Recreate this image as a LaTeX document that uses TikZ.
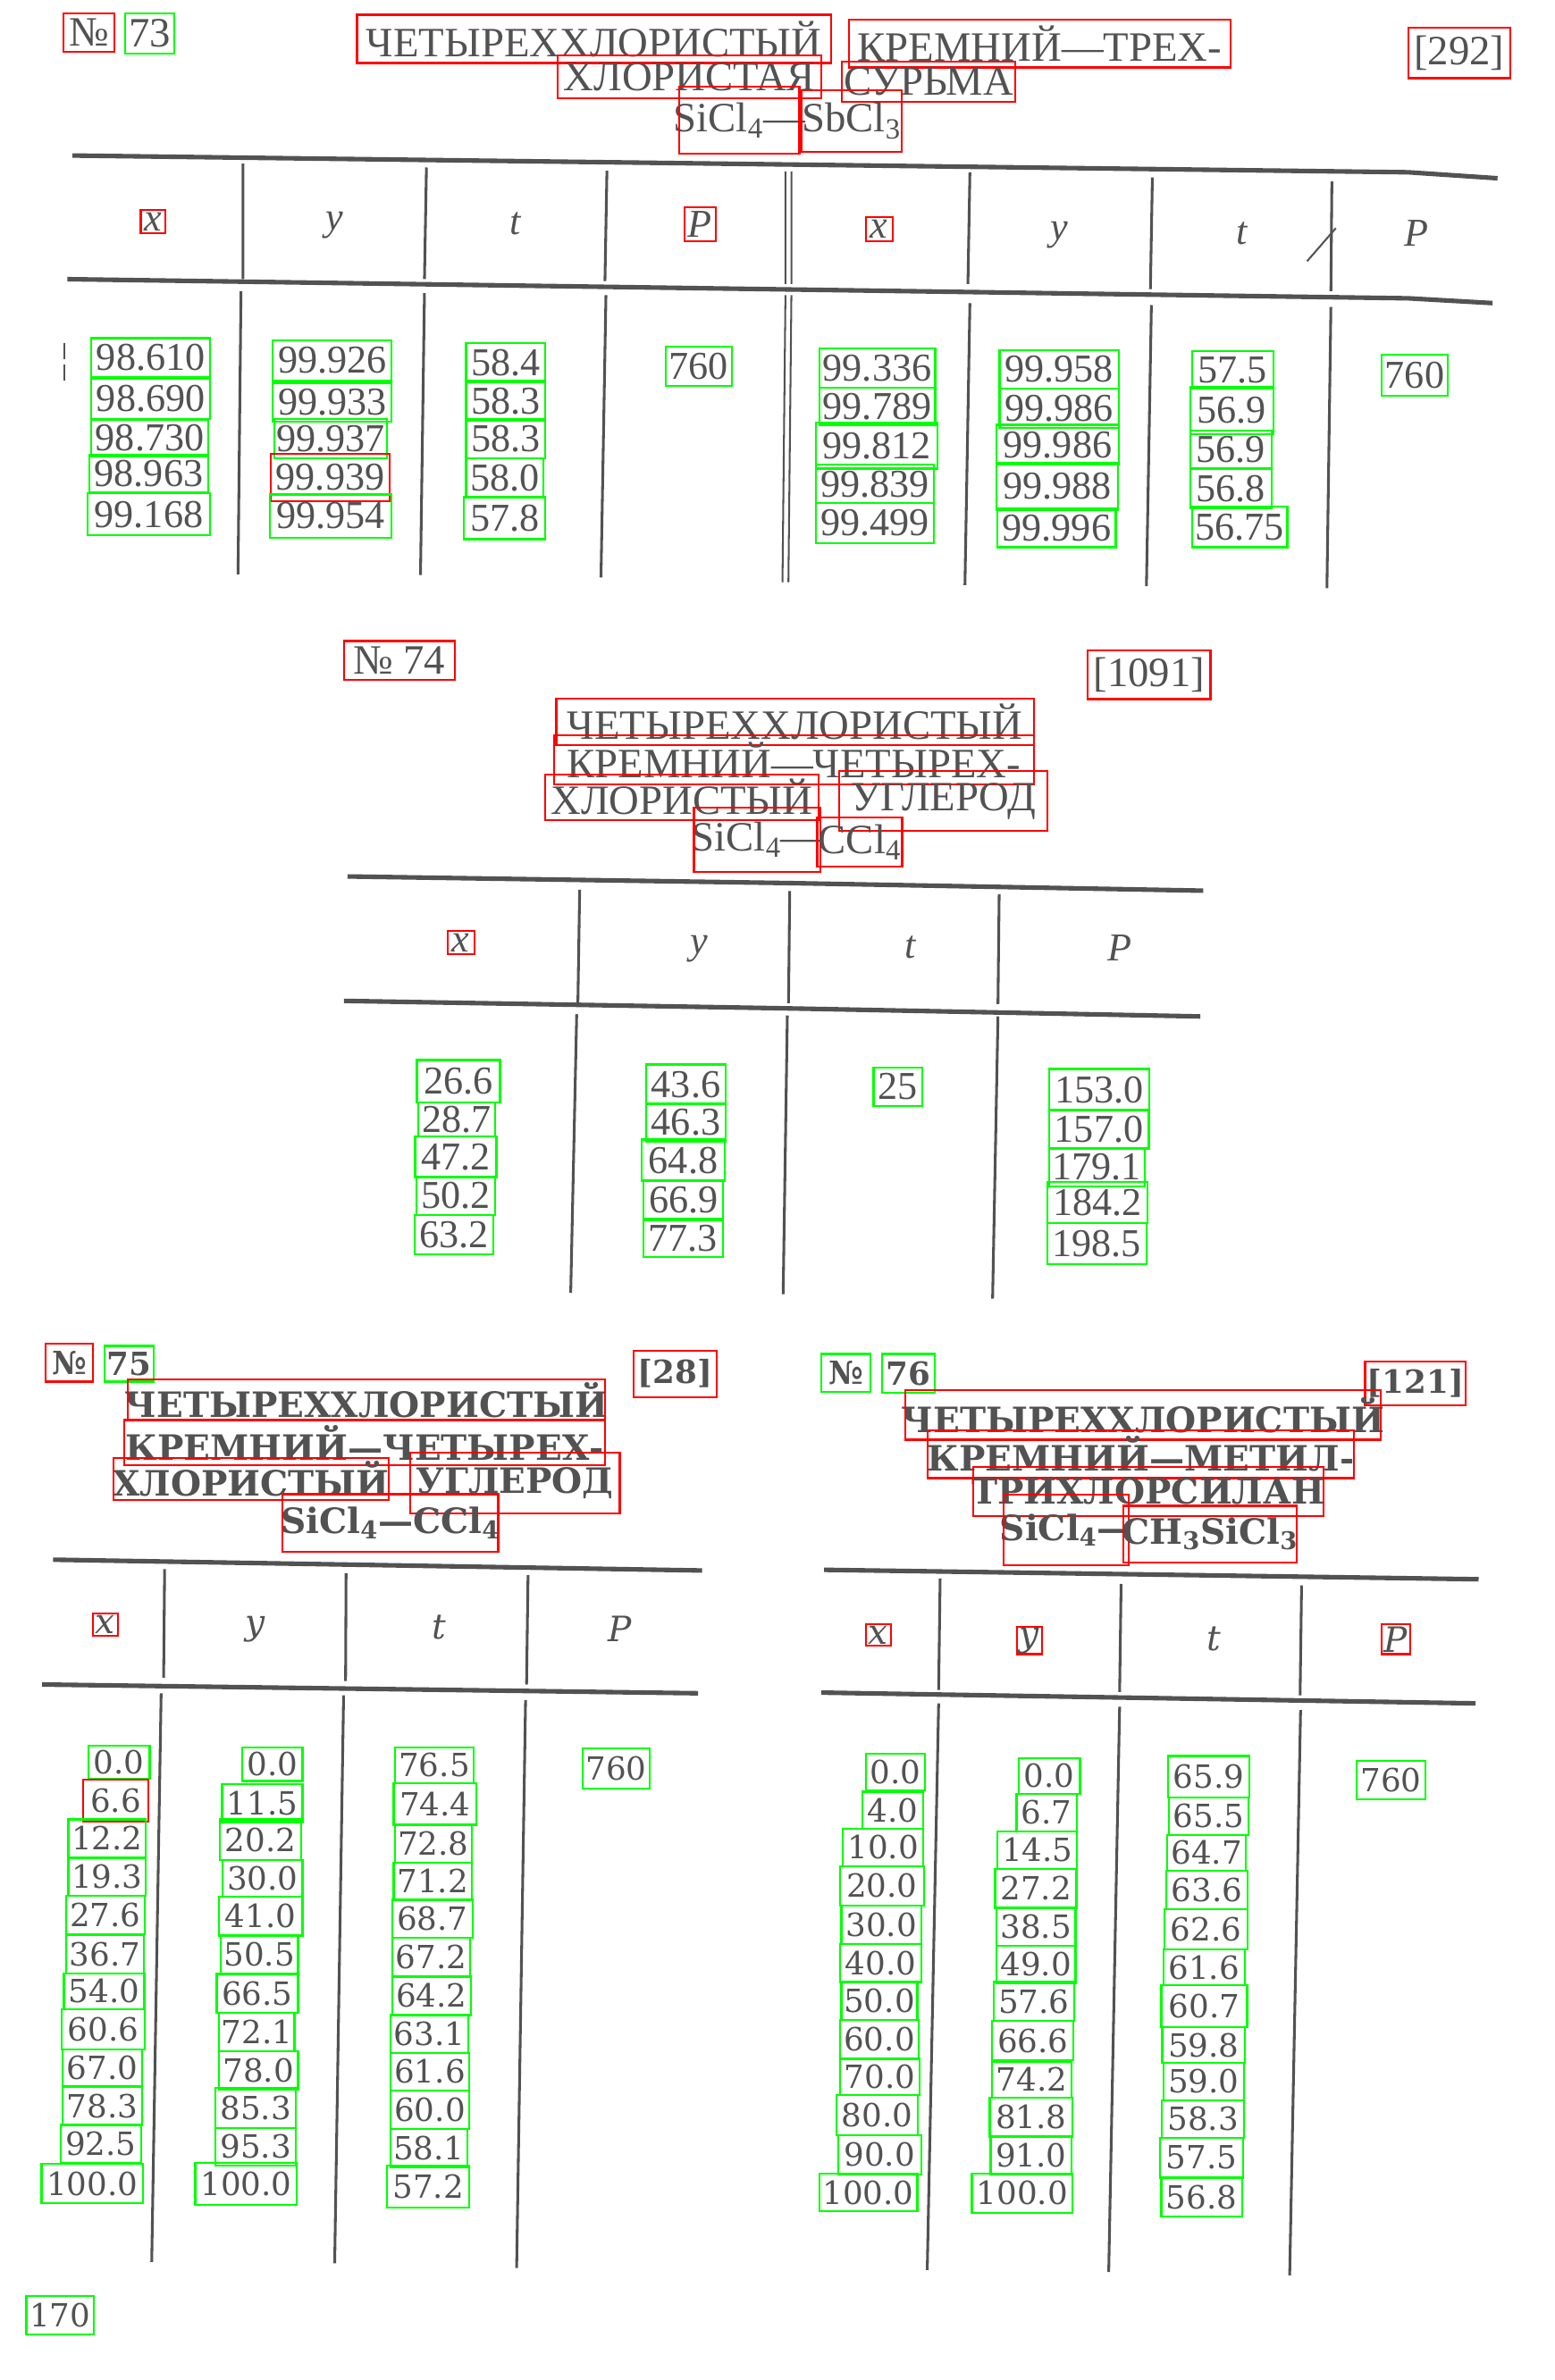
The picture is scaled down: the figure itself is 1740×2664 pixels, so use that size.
\documentclass[tikz,border=0pt]{standalone}
\usepackage{fontspec}
\setmainfont{Liberation Serif}
\newfontfamily\slab{DejaVu Serif}
\usepackage{tikz}
\usetikzlibrary{calc}
\definecolor{ink}{gray}{0.32}
% text node in the middle of a marked box
\newcommand{\bx}[8]{%
  \node[#2] (#3) at ({(#4+#6)/2},{(#5+#7)/2}) {#8};
  \draw[boxl, draw=#1] (#4,#5) rectangle (#6,#7);}

\begin{document}
\begin{tikzpicture}[x=0.5886pt, y=-0.5886pt,
  txt/.style={text=ink, inner sep=0pt},
  boxl/.style={line width=1.3pt},
  rule/.style={draw=ink, line width=3pt},
  vline/.style={draw=ink, line width=1.8pt},
  ttlA/.style={txt, font=\fontsize{27.5}{30}\selectfont},
  numA/.style={txt, font=\fontsize{26}{28}\selectfont},
  hdA/.style={txt, font=\fontsize{26}{28}\selectfont\itshape},
  ttlB/.style={txt, font=\slab\bfseries\fontsize{23}{25}\selectfont},
  nbB/.style={txt, font=\slab\bfseries\fontsize{21}{23}\selectfont},
  numB/.style={txt, font=\slab\fontsize{21}{23}\selectfont},
  hdB/.style={txt, font=\slab\itshape\fontsize{23}{25}\selectfont}]
\fill[white] (0,0) rectangle (1740,2664);
\useasboundingbox (0,0) rectangle (1740,2664);

% table 73
\begin{scope}[xscale=1.1097, yscale=0.4464]
\bx{red}{ttlA}{no73}{64}{33}{115}{130}{№}
\bx{green}{ttlA}{n73}{126}{33}{176}{134}{73}
\bx{red}{ttlA}{t73a}{360}{37}{838}{158}{ЧЕТЫРЕХХЛОРИСТЫЙ}
\bx{red}{ttlA}{t73b}{856}{49}{1241}{169}{КРЕМНИЙ—ТРЕХ-}
\bx{red}{ttlA}{t73c}{562}{139}{828}{247}{ХЛОРИСТАЯ}
\bx{red}{ttlA}{t73d}{849}{155}{1024}{256}{СУРЬМА}
\bx{red}{ttlA}{t73e}{685}{218}{806}{386}{SiCl\textsubscript{4}—}
\bx{red}{ttlA}{t73f}{808}{227}{909}{380}{SbCl\textsubscript{3}}
\bx{red}{ttlA}{r73}{1420}{70}{1523}{196}{[292]}
\draw[rule] (73,390) -- (1420,432) -- (1510,447);
\draw[rule] (68,700) -- (1420,748) -- (1505,760);
\draw[vline] (245,410) -- (245,700) (243,730) -- (240,1440);
\draw[vline] (430,420) -- (428,700) (428,735) -- (424,1442);
\draw[vline] (612,428) -- (610,705) (611,740) -- (606,1448);
\draw[vline, line width=1.2pt] (792,430) -- (792,712) (792,740) -- (789,1460);
\draw[vline, line width=1.2pt] (798,430) -- (798,712) (798,740) -- (795,1460);
\draw[vline] (978,432) -- (976,712) (978,760) -- (973,1467);
\draw[vline] (1162,445) -- (1160,725) (1161,765) -- (1156,1470);
\draw[vline] (1343,455) -- (1342,730) (1342,770) -- (1338,1475);
\draw[vline, line width=1.2pt] (1318,655) -- (1347,572);
\draw[vline, line width=1pt] (65,860) -- (65,900) (65,915) -- (65,955);
\bx{red}{hdA}{h73x}{142}{527}{167}{585}{x}
\node[hdA] (h73y) at (337,565) {y};
\node[hdA] (h73t) at (520,560) {t};
\bx{red}{hdA}{h73p}{690}{520}{722}{605}{P}
\bx{red}{hdA}{h73xx}{873}{545}{900}{605}{x}
\node[hdA] (h73yy) at (1068,590) {y};
\node[hdA] (h73tt) at (1252,585) {t};
\node[hdA] (h73pp) at (1428,585) {P};
\foreach \ka/\xa/\ya/\xb/\yb/\w [count=\i] in {green/92/848/212/945/98.610,
  green/92/950/212/1050/98.690, green/92/1053/210/1145/98.730,
  green/90/1140/210/1235/98.963, green/88/1237/212/1342/99.168}
  {\bx{\ka}{numA}{x73l\i}{\xa}{\ya}{\xb}{\yb}{\w}}
\foreach \ka/\xa/\ya/\xb/\yb/\w [count=\i] in {green/275/853/395/955/99.926,
  green/275/960/395/1058/99.933, green/277/1050/390/1150/99.937,
  red/273/1138/393/1256/99.939, green/272/1240/395/1348/99.954}
  {\bx{\ka}{numA}{y73l\i}{\xa}{\ya}{\xb}{\yb}{\w}}
\foreach \ka/\xa/\ya/\xb/\yb/\w [count=\i] in {green/470/860/550/958/58.4,
  green/470/955/550/1055/58.3, green/470/1050/550/1150/58.3,
  green/470/1150/548/1248/58.0, green/468/1245/550/1352/57.8}
  {\bx{\ka}{numA}{t73l\i}{\xa}{\ya}{\xb}{\yb}{\w}}
\bx{green}{numA}{p73l}{671}{870}{738}{967}{760}
\foreach \ka/\xa/\ya/\xb/\yb/\w [count=\i] in {green/826/873/943/972/99.336,
  green/826/972/943/1065/99.789, green/823/1060/945/1175/99.812,
  green/823/1165/942/1262/99.839, green/823/1262/942/1362/99.499}
  {\bx{\ka}{numA}{x73r\i}{\xa}{\ya}{\xb}{\yb}{\w}}
\foreach \ka/\xa/\ya/\xb/\yb/\w [count=\i] in {green/1008/878/1128/975/99.958,
  green/1008/975/1128/1073/99.986, green/1005/1065/1128/1165/99.986,
  green/1005/1160/1127/1278/99.988, green/1006/1275/1125/1372/99.996}
  {\bx{\ka}{numA}{y73r\i}{\xa}{\ya}{\xb}{\yb}{\w}}
\foreach \ka/\xa/\ya/\xb/\yb/\w [count=\i] in {green/1202/880/1284/975/57.5,
  green/1200/970/1284/1088/56.9, green/1200/1080/1282/1175/56.9,
  green/1200/1175/1282/1275/56.8, green/1202/1270/1298/1372/56.75}
  {\bx{\ka}{numA}{t73r\i}{\xa}{\ya}{\xb}{\yb}{\w}}
\bx{green}{numA}{p73r}{1393}{890}{1460}{992}{760}
\end{scope}

% table 74
\begin{scope}[shift={(350,700)}, xscale=0.6696, yscale=0.4974]
\bx{red}{ttlA}{no74}{52}{35}{237}{122}{№ 74}
\bx{red}{ttlA}{r74}{1295}{56}{1500}{166}{[1091]}
\bx{red}{ttlA}{t74a}{407}{165}{1205}{270}{ЧЕТЫРЕХХЛОРИСТЫЙ}
\bx{red}{ttlA}{t74b}{403}{248}{1205}{358}{КРЕМНИЙ—ЧЕТЫРЕХ-}
\bx{red}{ttlA}{t74c}{388}{335}{845}{438}{ХЛОРИСТЫЙ}
\bx{red}{ttlA}{t74d}{880}{328}{1228}{463}{УГЛЕРОД}
\bx{red}{ttlA}{t74e}{637}{410}{848}{555}{SiCl\textsubscript{4}—}
\bx{red}{ttlA}{t74f}{843}{433}{985}{542}{CCl\textsubscript{4}}
\draw[rule] (58,565) -- (800,580) -- (1488,597);
\draw[rule] (52,845) -- (800,862) -- (1483,880);
\draw[vline] (446,595) -- (443,850) (441,875) -- (431,1502);
\draw[vline] (797,598) -- (795,850) (793,878) -- (786,1505);
\draw[vline] (1147,605) -- (1145,852) (1145,880) -- (1136,1515);
\bx{red}{hdA}{h74x}{225}{688}{270}{740}{x}
\node[hdA] (h74y) at (645,728) {y};
\node[hdA] (h74t) at (998,725) {t};
\node[hdA] (h74p) at (1348,725) {P};
\foreach \ka/\xa/\ya/\xb/\yb/\w [count=\i] in {green/174/978/313/1073/26.6,
  green/176/1073/305/1150/28.7, green/171/1150/307/1243/47.2,
  green/173/1240/305/1327/50.2, green/170/1327/302/1415/63.2}
  {\bx{\ka}{numA}{x74\i}{\xa}{\ya}{\xb}{\yb}{\w}}
\foreach \ka/\xa/\ya/\xb/\yb/\w [count=\i] in {green/557/988/690/1078/43.6,
  green/557/1075/690/1162/46.3, green/550/1157/688/1250/64.8,
  green/553/1248/686/1338/66.9, green/552/1335/685/1422/77.3}
  {\bx{\ka}{numA}{y74\i}{\xa}{\ya}{\xb}{\yb}{\w}}
\bx{green}{numA}{t74}{937}{995}{1018}{1081}{25}
\foreach \ka/\xa/\ya/\xb/\yb/\w [count=\i] in {green/1230/998/1398/1092/153.0,
  green/1230/1090/1397/1177/157.0, green/1230/1177/1390/1262/179.1,
  green/1228/1252/1395/1345/184.2, green/1227/1345/1393/1438/198.5}
  {\bx{\ka}{numA}{p74\i}{\xa}{\ya}{\xb}{\yb}{\w}}
\end{scope}

% table 75
\begin{scope}[shift={(0,1480)}, xscale=0.5548, yscale=0.7551]
\bx{red}{nbB}{no75}{92}{32}{188}{88}{№}
\bx{green}{nbB}{n75}{211}{35}{310}{88}{75}
\bx{red}{nbB}{r75}{1278}{42}{1445}{111}{[28]}
\bx{red}{ttlB}{t75a}{258}{85}{1220}{145}{ЧЕТЫРЕХХЛОРИСТЫЙ}
\bx{red}{ttlB}{t75b}{251}{145}{1220}{212}{КРЕМНИЙ—ЧЕТЫРЕХ-}
\bx{red}{ttlB}{t75c}{229}{201}{784}{263}{ХЛОРИСТЫЙ}
\bx{red}{ttlB}{t75d}{827}{193}{1250}{283}{УГЛЕРОД}
\bx{red}{ttlB}{t75e}{570}{255}{1005}{340}{SiCl\textsubscript{4}—CCl\textsubscript{4}}
\draw[rule] (107,352) -- (1416,368);
\draw[rule] (85,537) -- (1408,550);
\draw[vline] (332,366) -- (330,527) (325,550) -- (306,1393);
\draw[vline] (698,372) -- (697,532) (693,553) -- (675,1395);
\draw[vline] (1065,375) -- (1062,537) (1060,560) -- (1042,1402);
\bx{red}{hdB}{h75x}{187}{432}{238}{465}{x}
\node[hdB] (h75y) at (515,455) {y};
\node[hdB] (h75t) at (885,452) {t};
\node[hdB] (h75p) at (1250,455) {P};
\foreach \ka/\xa/\ya/\xb/\yb/\w [count=\i] in {green/178/628/302/677/0.0,
  red/168/678/299/740/6.6, green/138/737/294/793/12.2, green/138/794/294/850/19.3,
  green/133/850/292/907/27.6, green/133/908/290/965/36.7, green/129/965/291/1018/54.0,
  green/124/1018/292/1078/60.6, green/126/1078/287/1133/67.0, green/126/1133/287/1190/78.3,
  green/122/1190/285/1246/92.5, green/84/1248/288/1306/100.0}
  {\bx{\ka}{numB}{x75\i}{\xa}{\ya}{\xb}{\yb}{\w}}
\foreach \ka/\xa/\ya/\xb/\yb/\w [count=\i] in {green/489/630/610/680/0.0,
  green/448/685/610/741/11.5, green/443/737/608/797/20.2, green/449/797/610/852/30.0,
  green/441/852/610/909/41.0, green/445/909/601/966/50.5, green/437/966/601/1024/66.5,
  green/442/1024/594/1081/72.1, green/441/1081/601/1137/78.0, green/435/1135/597/1194/85.3,
  green/435/1194/597/1250/95.3, green/394/1246/599/1308/100.0}
  {\bx{\ka}{numB}{y75\i}{\xa}{\ya}{\xb}{\yb}{\w}}
\foreach \ka/\xa/\ya/\xb/\yb/\w [count=\i] in {green/797/630/955/683/76.5,
  green/794/683/961/745/74.4, green/797/745/951/801/72.8, green/794/801/951/857/71.2,
  green/791/855/953/912/68.7, green/791/912/948/970/67.2, green/791/970/950/1027/64.2,
  green/787/1027/945/1083/63.1, green/788/1083/946/1139/61.6, green/788/1139/946/1196/60.0,
  green/788/1196/942/1252/58.1, green/781/1250/946/1312/57.2}
  {\bx{\ka}{numB}{t75\i}{\xa}{\ya}{\xb}{\yb}{\w}}
\bx{green}{numB}{p75}{1175}{632}{1311}{691}{760}
\bx{green}{numB}{pg}{53}{1443}{189}{1500}{170}
\end{scope}

% table 76
\begin{scope}[shift={(870,1480)}, xscale=0.5548, yscale=0.7551]
\bx{green}{nbB}{no76}{88}{47}{188}{103}{№}
\bx{green}{nbB}{n76}{211}{47}{317}{105}{76}
\bx{red}{nbB}{r76}{1185}{58}{1388}{123}{[121]}
\bx{red}{ttlB}{t76a}{258}{101}{1216}{174}{ЧЕТЫРЕХХЛОРИСТЫЙ}
\bx{red}{ttlB}{t76b}{303}{160}{1163}{231}{КРЕМНИЙ—МЕТИЛ-}
\bx{red}{ttlB}{t76c}{394}{214}{1101}{287}{ТРИХЛОРСИЛАН}
\bx{red}{ttlB}{t76d}{456}{256}{708}{360}{SiCl\textsubscript{4}—}
\bx{red}{ttlB}{t76e}{697}{272}{1047}{356}{CH\textsubscript{3}SiCl\textsubscript{3}}
\draw[rule] (94,367) -- (1414,381);
\draw[rule] (88,549) -- (1408,565);
\draw[vline] (328,380) -- (325,545) (325,565) -- (302,1405);
\draw[vline] (693,388) -- (690,548) (690,570) -- (668,1408);
\draw[vline] (1057,390) -- (1054,553) (1055,575) -- (1033,1413);
\bx{red}{hdB}{h76x}{178}{448}{229}{479}{x}
\bx{red}{hdB}{h76y}{483}{452}{533}{492}{y}
\node[hdB] (h76t) at (880,470) {t};
\bx{red}{hdB}{h76p}{1219}{448}{1276}{492}{P}
\foreach \ka/\xa/\ya/\xb/\yb/\w [count=\i] in {green/178/640/298/694/0.0,
  green/171/696/294/751/4.0, green/132/751/294/806/10.0, green/126/806/295/865/20.0,
  green/129/865/290/922/30.0, green/126/922/290/978/40.0, green/129/978/282/1034/50.0,
  green/126/1034/285/1092/60.0, green/126/1092/287/1146/70.0, green/119/1146/283/1205/80.0,
  green/122/1205/290/1263/90.0, green/84/1262/282/1318/100.0}
  {\bx{\ka}{numB}{x76\i}{\xa}{\ya}{\xb}{\yb}{\w}}
\foreach \ka/\xa/\ya/\xb/\yb/\w [count=\i] in {green/486/646/610/699/0.0,
  green/482/699/604/755/6.7, green/444/755/604/810/14.5, green/439/810/603/868/27.2,
  green/441/868/601/924/38.5, green/441/924/601/980/49.0, green/436/978/598/1036/57.6,
  green/433/1036/597/1094/66.6, green/433/1096/593/1150/74.2, green/428/1150/595/1207/81.8,
  green/430/1207/593/1263/91.0, green/392/1262/595/1320/100.0}
  {\bx{\ka}{numB}{y76\i}{\xa}{\ya}{\xb}{\yb}{\w}}
\foreach \ka/\xa/\ya/\xb/\yb/\w [count=\i] in {green/788/643/952/704/65.9,
  green/790/704/950/760/65.5, green/786/760/945/813/64.7, green/784/813/948/870/63.6,
  green/781/870/948/930/62.6, green/778/930/942/983/61.6, green/774/983/947/1045/60.7,
  green/776/1045/943/1098/59.8, green/778/1098/941/1153/59.0, green/775/1153/941/1209/58.3,
  green/772/1209/939/1268/57.5, green/774/1268/937/1326/56.8}
  {\bx{\ka}{numB}{t76\i}{\xa}{\ya}{\xb}{\yb}{\w}}
\bx{green}{numB}{p76}{1168}{650}{1307}{707}{760}
\end{scope}
\end{tikzpicture}
\end{document}
